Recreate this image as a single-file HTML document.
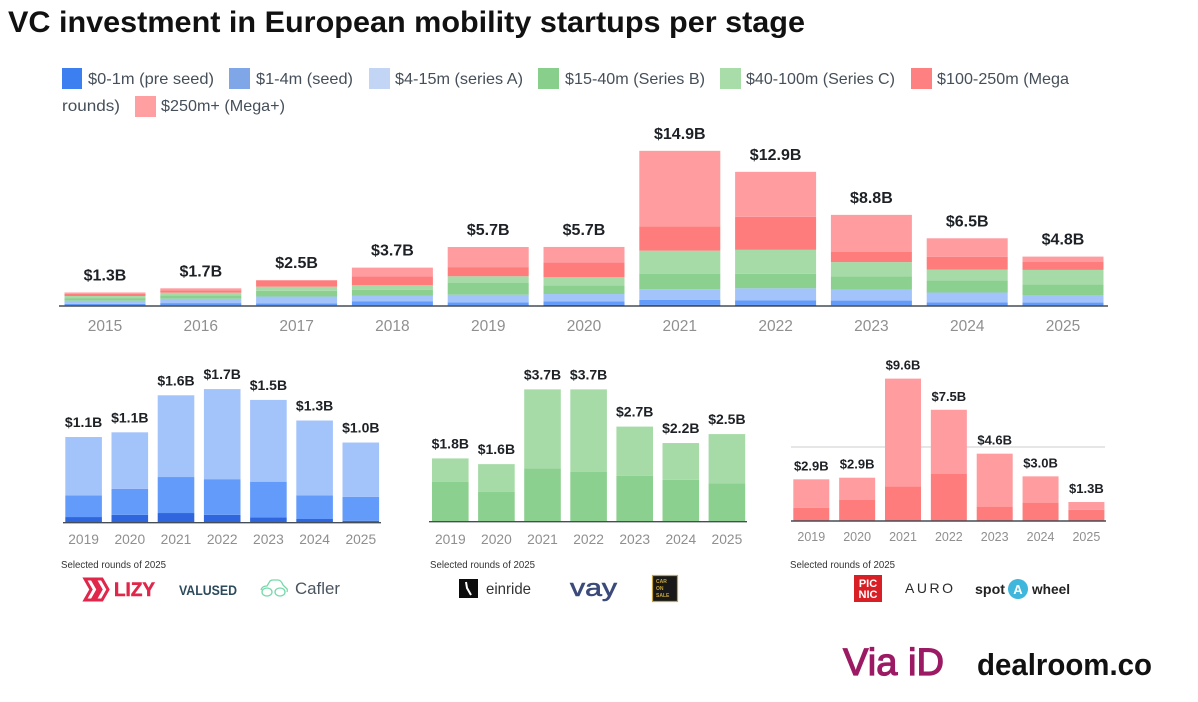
<!DOCTYPE html>
<html lang="en">
<head>
<meta charset="utf-8">
<title>VC investment in European mobility startups per stage</title>
<style>
html,body{margin:0;padding:0;background:#fff;width:1198px;height:702px;overflow:hidden}
svg{display:block;font-family:"Liberation Sans",sans-serif;filter:blur(.35px)}
.leg{font-size:16px;fill:#454f59}
.sel{font-size:10px;fill:#333}
</style>
</head>
<body>
<svg id="chart" xmlns="http://www.w3.org/2000/svg" width="1198" height="702" viewBox="0 0 1198 702">
  <rect x="0" y="0" width="1198" height="702" fill="#ffffff"/>
  <text x="8" y="32" font-size="30" font-weight="700" fill="#111" textLength="797" lengthAdjust="spacingAndGlyphs">VC investment in European mobility startups per stage</text>

  <g>
    <rect x="62" y="68" width="20" height="21" fill="#3b7ff0"/>
    <text class="leg" x="88" y="84" textLength="126" lengthAdjust="spacingAndGlyphs">$0-1m (pre seed)</text>
    <rect x="229" y="68" width="21" height="21" fill="#7fa6e6"/>
    <text class="leg" x="256" y="84" textLength="97" lengthAdjust="spacingAndGlyphs">$1-4m (seed)</text>
    <rect x="369" y="68" width="21" height="21" fill="#c3d5f5"/>
    <text class="leg" x="395" y="84" textLength="128" lengthAdjust="spacingAndGlyphs">$4-15m (series A)</text>
    <rect x="538" y="68" width="21" height="21" fill="#88cf8c"/>
    <text class="leg" x="565" y="84" textLength="140" lengthAdjust="spacingAndGlyphs">$15-40m (Series B)</text>
    <rect x="720" y="68" width="21" height="21" fill="#a8dca8"/>
    <text class="leg" x="746" y="84" textLength="149" lengthAdjust="spacingAndGlyphs">$40-100m (Series C)</text>
    <rect x="911" y="68" width="21" height="21" fill="#ff8080"/>
    <text class="leg" x="937" y="84" textLength="132" lengthAdjust="spacingAndGlyphs">$100-250m (Mega</text>
    <text class="leg" x="62" y="111" textLength="58" lengthAdjust="spacingAndGlyphs">rounds)</text>
    <rect x="135" y="96" width="21" height="21" fill="#ff9fa2"/>
    <text class="leg" x="161" y="111" textLength="124" lengthAdjust="spacingAndGlyphs">$250m+ (Mega+)</text>
  </g>

  <line x1="791" x2="1105" y1="447" y2="447" stroke="#d8d8d8" stroke-width="1.2"/>

  <g id="marks"></g>

  <g>
    <text class="sel" x="61" y="568" textLength="105" lengthAdjust="spacingAndGlyphs">Selected rounds of 2025</text>
    <path d="M85 579l7 0 6 10.500-6 10.500-7 0 6-10.500zM95 579l7 0 6 10.500-6 10.500-7 0 6-10.500z" fill="none" stroke="#e0264a" stroke-width="3"/>
    <text x="114" y="596" font-size="19" font-weight="700" fill="#e0264a" textLength="41" lengthAdjust="spacingAndGlyphs" stroke="#e0264a" stroke-width=".5">LIZY</text>
    <text x="179" y="595" font-size="14" font-weight="700" fill="#2b4a5c" textLength="58" lengthAdjust="spacingAndGlyphs">VALUSED</text>
    <path d="M261 590q1-4 6-4l3-5q1-1 3-1h5q3 0 5 5l3 3q2 1 1 4M262 592a5 4 0 1 0 10 0a5 4 0 1 0-10 0M275 592a5 4 0 1 0 10 0a5 4 0 1 0-10 0" fill="none" stroke="#74d9a9" stroke-width="1.300"/>
    <text x="295" y="594" font-size="17" fill="#4a5560" textLength="45" lengthAdjust="spacingAndGlyphs">Cafler</text>
  </g>

  <g>
    <text class="sel" x="430" y="568" textLength="105" lengthAdjust="spacingAndGlyphs">Selected rounds of 2025</text>
    <rect x="459" y="579" width="19" height="19" fill="#0c0c0c"/>
    <path d="M466 582l1 6 4 7" fill="none" stroke="#fff" stroke-width="2"/>
    <text x="486" y="594" font-size="16" fill="#333" textLength="45" lengthAdjust="spacingAndGlyphs">einride</text>
    <text x="570" y="596" font-size="24" fill="#3b4a7a" stroke="#3b4a7a" stroke-width=".6" textLength="47" lengthAdjust="spacingAndGlyphs">vay</text>
    <rect x="652.500" y="575.500" width="25" height="26" fill="#191919" stroke="#c8a53c" stroke-width="1.200"/>
    <text x="656" y="583" font-size="5" font-weight="700" fill="#c8a53c">CAR</text>
    <text x="656" y="590" font-size="5" font-weight="700" fill="#c8a53c">ON</text>
    <text x="656" y="597" font-size="5" font-weight="700" fill="#c8a53c">SALE</text>
  </g>

  <g>
    <text class="sel" x="790" y="568" textLength="105" lengthAdjust="spacingAndGlyphs">Selected rounds of 2025</text>
    <rect x="854" y="575" width="28" height="27" fill="#d81f26"/>
    <text x="868" y="587" font-size="11" font-weight="700" fill="#fff" text-anchor="middle">PIC</text>
    <text x="868" y="598" font-size="11" font-weight="700" fill="#fff" text-anchor="middle">NIC</text>
    <text x="905" y="593" font-size="14" fill="#2a2a2a" textLength="48">AURO</text>
    <text x="975" y="594" font-size="14" font-weight="700" fill="#222" textLength="30" lengthAdjust="spacingAndGlyphs">spot</text>
    <circle cx="1018" cy="589" r="10" fill="#3fb6dc"/>
    <text x="1018" y="594" font-size="13" font-weight="700" fill="#fff" text-anchor="middle">A</text>
    <text x="1032" y="594" font-size="14" font-weight="700" fill="#222" textLength="38" lengthAdjust="spacingAndGlyphs">wheel</text>
  </g>

  <text x="843" y="675" font-size="38" fill="#9c1a64" stroke="#9c1a64" stroke-width="1.2" textLength="101" lengthAdjust="spacingAndGlyphs">Via iD</text>
  <text x="977" y="675" font-size="31" font-weight="700" fill="#111" textLength="175" lengthAdjust="spacingAndGlyphs">dealroom.co</text>
</svg>

<script>
var years = ['2015','2016','2017','2018','2019','2020','2021','2022','2023','2024','2025'];
var panelYears = ['2019','2020','2021','2022','2023','2024','2025'];

var preSeed = [0.04,0.06,0.06,0.08,0.072,0.10,0.123,0.10,0.068,0.047,0.025];
var seed = [0.17,0.22,0.20,0.38,0.276,0.33,0.458,0.454,0.454,0.30,0.305];
var seriesA = [0.30,0.42,0.65,0.51,0.742,0.72,1.04,1.146,1.04,0.953,0.69];
var seriesB = [0.25,0.33,0.55,0.60,1.12,0.84,1.49,1.40,1.28,1.17,1.07];
var seriesC = [0.20,0.25,0.40,0.42,0.65,0.77,2.21,2.30,1.38,1.03,1.38];
var mega = [0.20,0.22,0.58,0.87,0.88,1.44,2.34,3.17,0.97,1.24,0.76];
var megaPlus = [0.14,0.20,0.06,0.83,1.93,1.48,7.26,4.33,3.57,1.77,0.52];

var totalLabels = ['$1.3B','$1.7B','$2.5B','$3.7B','$5.7B','$5.7B','$14.9B','$12.9B','$8.8B','$6.5B','$4.8B'];
var earlyLabels = ['$1.1B','$1.1B','$1.6B','$1.7B','$1.5B','$1.3B','$1.0B'];
var growthLabels = ['$1.8B','$1.6B','$3.7B','$3.7B','$2.7B','$2.2B','$2.5B'];
var lateLabels = ['$2.9B','$2.9B','$9.6B','$7.5B','$4.6B','$3.0B','$1.3B'];

var svgNS = 'http://www.w3.org/2000/svg';
var marks = document.getElementById('marks');

function drawPanel(p) {
  function xBand(i) { return p.left + i * p.step; }
  function yValue(v) { return p.base - v * p.pxPerUnit; }

  var group = document.createElementNS(svgNS, 'g');
  
  
  marks.appendChild(group);

  p.categories.forEach(function (cat, i) {
    var acc = 0;
    p.series.forEach(function (s) {
      var v = s.values[i];
      var rect = document.createElementNS(svgNS, 'rect');
      rect.setAttribute('x', xBand(i));
      rect.setAttribute('y', yValue(acc + v));
      rect.setAttribute('width', p.width);
      rect.setAttribute('height', v * p.pxPerUnit);
      rect.setAttribute('fill', s.color);
      
      
      group.appendChild(rect);
      acc += v;
    });

    var value = document.createElementNS(svgNS, 'text');
    value.setAttribute('x', xBand(i) + p.width / 2);
    value.setAttribute('y', yValue(acc) - p.labelGap);
    value.setAttribute('text-anchor', 'middle');
    value.setAttribute('font-size', p.labelSize);
    value.setAttribute('font-weight', '700');
    value.setAttribute('fill', '#1d2126');
    value.textContent = p.labels[i];
    
    
    group.appendChild(value);

    var tick = document.createElementNS(svgNS, 'text');
    tick.setAttribute('x', xBand(i) + p.width / 2);
    tick.setAttribute('y', p.tickY);
    tick.setAttribute('text-anchor', 'middle');
    tick.setAttribute('font-size', p.tickSize);
    tick.setAttribute('fill', '#8f8f8f');
    tick.textContent = cat;
    
    
    group.appendChild(tick);
  });

  var axis = document.createElementNS(svgNS, 'line');
  axis.setAttribute('x1', p.axisFrom);
  axis.setAttribute('x2', p.axisTo);
  axis.setAttribute('y1', p.base);
  axis.setAttribute('y2', p.base);
  axis.setAttribute('stroke', '#454d57');
  axis.setAttribute('stroke-width', '1.4');
  
  
  group.appendChild(axis);
}

var BLUE_DARK = '#2f66de', BLUE = '#629bfa', BLUE_LIGHT = '#a3c3fb';
var GREEN = '#8bd08f', GREEN_LIGHT = '#a6dba7';
var RED = '#ff7c7c', RED_LIGHT = '#ff9ca0';
var offset = years.indexOf(panelYears[0]);

drawPanel({
  name: 'total-chart', categories: years, labels: totalLabels,
  left: 64.5, step: 95.8, width: 81, base: 306, pxPerUnit: 10.4,
  labelGap: 12, labelSize: 16, tickY: 331, tickSize: 15.5, axisFrom: 59, axisTo: 1108,
  series: [
    { key: 'pre-seed', color: BLUE_DARK, values: preSeed },
    { key: 'seed', color: BLUE, values: seed },
    { key: 'series-a', color: BLUE_LIGHT, values: seriesA },
    { key: 'series-b', color: GREEN, values: seriesB },
    { key: 'series-c', color: GREEN_LIGHT, values: seriesC },
    { key: 'mega', color: RED, values: mega },
    { key: 'mega-plus', color: RED_LIGHT, values: megaPlus }
  ]
});

drawPanel({
  name: 'early-stage-chart', categories: panelYears, labels: earlyLabels,
  left: 65.3, step: 46.2, width: 36.6, base: 522.7, pxPerUnit: 78.6,
  labelGap: 10, labelSize: 14, tickY: 544, tickSize: 13.8, axisFrom: 63, axisTo: 381,
  series: [
    { key: 'pre-seed', color: BLUE_DARK, values: preSeed.slice(offset) },
    { key: 'seed', color: BLUE, values: seed.slice(offset) },
    { key: 'series-a', color: BLUE_LIGHT, values: seriesA.slice(offset) }
  ]
});

drawPanel({
  name: 'growth-stage-chart', categories: panelYears, labels: growthLabels,
  left: 432, step: 46.1, width: 36.6, base: 521.7, pxPerUnit: 35.76,
  labelGap: 10, labelSize: 14, tickY: 544, tickSize: 13.8, axisFrom: 429, axisTo: 747,
  series: [
    { key: 'series-b', color: GREEN, values: seriesB.slice(offset) },
    { key: 'series-c', color: GREEN_LIGHT, values: seriesC.slice(offset) }
  ]
});

drawPanel({
  name: 'late-stage-chart', categories: panelYears, labels: lateLabels,
  left: 793.3, step: 45.85, width: 36, base: 521, pxPerUnit: 14.83,
  labelGap: 9, labelSize: 13, tickY: 541, tickSize: 12.5, axisFrom: 791, axisTo: 1106,
  series: [
    { key: 'mega', color: RED, values: mega.slice(offset) },
    { key: 'mega-plus', color: RED_LIGHT, values: megaPlus.slice(offset) }
  ]
});
</script>
</body>
</html>
